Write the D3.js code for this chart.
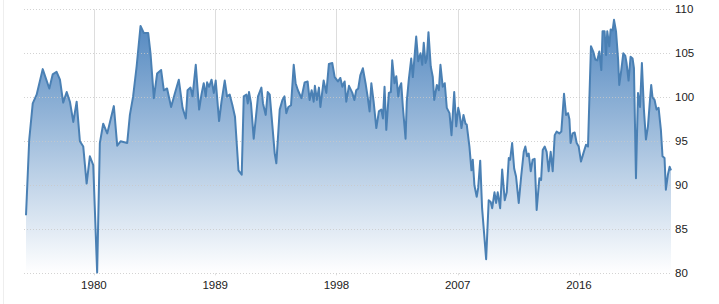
<!DOCTYPE html>
<html>
<head>
<meta charset="utf-8">
<script src="https://cdn.jsdelivr.net/npm/d3@7"></script>
<style>
  body { margin: 0; background: #fff; }
  svg { display: block; }
  .tick-label { font-family: 'Liberation Sans', Arial, sans-serif; font-size: 11.5px; fill: #222; }
</style>
</head>
<body>
<script>
// decimal years
var years = [
  1974.96, 1975.20, 1975.46, 1975.75, 1976.20, 1976.69, 1976.94, 1977.23, 1977.48, 1977.72,
  1977.98, 1978.22, 1978.47, 1978.72, 1978.96, 1979.21, 1979.46, 1979.70, 1979.95, 1980.24,
  1980.44, 1980.69, 1980.99, 1981.48, 1981.73, 1981.98, 1982.47, 1982.67, 1982.91, 1983.17,
  1983.46, 1983.71, 1983.91, 1984.03, 1984.20, 1984.45, 1984.69, 1984.99, 1985.19, 1985.43,
  1985.73, 1985.98, 1986.30, 1986.58, 1986.82, 1986.95, 1987.17, 1987.32, 1987.56, 1987.81,
  1987.98, 1988.15, 1988.30, 1988.40, 1988.55, 1988.73, 1988.90, 1989.04, 1989.29, 1989.47,
  1989.71, 1989.88, 1990.08, 1990.28, 1990.47, 1990.73, 1990.97, 1991.12, 1991.32, 1991.42,
  1991.51, 1991.66, 1991.86, 1992.18, 1992.43, 1992.55, 1992.75, 1992.90, 1993.05, 1993.25,
  1993.42, 1993.54, 1993.79, 1993.99, 1994.14, 1994.28, 1994.43, 1994.63, 1994.83, 1994.97,
  1995.14, 1995.40, 1995.64, 1995.86, 1996.01, 1996.16, 1996.31, 1996.40, 1996.55, 1996.70,
  1996.81, 1997.05, 1997.25, 1997.44, 1997.69, 1997.87, 1998.11, 1998.29, 1998.44, 1998.61,
  1998.73, 1998.93, 1999.18, 1999.33, 1999.47, 1999.62, 1999.77, 1999.96, 2000.16, 2000.33,
  2000.46, 2000.59, 2000.76, 2000.96, 2001.15, 2001.33, 2001.45, 2001.57, 2001.70, 2001.89,
  2002.04, 2002.14, 2002.31, 2002.44, 2002.59, 2002.68, 2002.81, 2002.93, 2003.13, 2003.22,
  2003.37, 2003.55, 2003.67, 2003.92, 2004.07, 2004.24, 2004.37, 2004.48, 2004.61, 2004.71,
  2004.83, 2005.00, 2005.15, 2005.26, 2005.45, 2005.60, 2005.72, 2005.89, 2006.04, 2006.19,
  2006.39, 2006.54, 2006.74, 2006.89, 2007.04, 2007.13, 2007.28, 2007.43, 2007.58, 2007.67,
  2007.87, 2008.02, 2008.12, 2008.24, 2008.41, 2008.52, 2008.67, 2008.81, 2008.96, 2009.11,
  2009.30, 2009.45, 2009.56, 2009.73, 2009.85, 2009.97, 2010.15, 2010.30, 2010.49, 2010.64,
  2010.79, 2010.89, 2011.04, 2011.19, 2011.33, 2011.53, 2011.71, 2011.90, 2012.02, 2012.15,
  2012.27, 2012.42, 2012.56, 2012.71, 2012.86, 2013.06, 2013.19, 2013.31, 2013.46, 2013.60,
  2013.75, 2013.90, 2014.05, 2014.20, 2014.34, 2014.54, 2014.69, 2014.89, 2015.04, 2015.19,
  2015.29, 2015.38, 2015.53, 2015.68, 2015.83, 2015.98, 2016.15, 2016.32, 2016.52, 2016.67,
  2016.77, 2016.89, 2017.06, 2017.21, 2017.36, 2017.51, 2017.66, 2017.75, 2017.90, 2018.01,
  2018.10, 2018.25, 2018.35, 2018.50, 2018.60, 2018.75, 2018.90, 2018.99, 2019.14, 2019.29,
  2019.44, 2019.53, 2019.68, 2019.83, 2019.98, 2020.08, 2020.23, 2020.38, 2020.53, 2020.67,
  2020.82, 2020.97, 2021.12, 2021.27, 2021.36, 2021.46, 2021.61, 2021.76, 2021.91, 2022.08,
  2022.20, 2022.35, 2022.45, 2022.60, 2022.73, 2022.83
]

var values = [
  86.6, 95.2, 99.3, 100.3, 103.2, 101.0, 102.6, 102.9, 102.0, 99.4,
  100.6, 99.5, 97.2, 99.5, 95.0, 94.4, 90.2, 93.3, 92.3, 80.1,
  94.8, 97.0, 95.9, 99.0, 94.5, 95.0, 94.8, 98.0, 100.1, 103.5,
  108.1, 107.3, 107.3, 107.3, 105.0, 99.9, 102.7, 103.1, 100.8, 101.0,
  98.9, 100.3, 102.0, 98.8, 97.6, 100.8, 101.1, 100.1, 103.7, 98.6,
  100.3, 101.6, 100.1, 101.7, 101.2, 102.0, 100.5, 101.9, 97.3, 99.5,
  101.9, 100.1, 100.3, 99.1, 97.8, 91.7, 91.2, 100.1, 100.3, 99.3,
  100.6, 99.3, 95.3, 100.1, 101.1, 99.3, 98.0, 100.6, 100.3, 96.7,
  93.6, 92.5, 98.6, 99.7, 100.1, 98.2, 98.9, 99.1, 103.7, 101.6,
  100.8, 99.9, 101.7, 101.8, 99.7, 100.8, 99.5, 101.3, 99.7, 101.1,
  98.9, 101.9, 100.5, 103.8, 103.9, 102.3, 101.8, 102.2, 101.2, 101.8,
  99.5, 101.3, 100.5, 99.7, 100.8, 101.0, 102.5, 103.3, 101.6, 99.9,
  98.4, 101.6, 99.5, 96.5, 98.4, 98.6, 97.6, 101.2, 96.3, 100.5,
  100.6, 104.2, 101.6, 102.4, 100.1, 101.1, 101.6, 98.9, 95.3, 99.5,
  102.0, 104.4, 102.3, 106.9, 104.1, 105.0, 103.7, 106.2, 103.9, 104.4,
  107.4, 103.5, 102.3, 99.7, 101.4, 100.8, 103.7, 101.2, 101.6, 98.8,
  98.2, 95.7, 100.6, 96.7, 98.8, 98.2, 96.5, 98.0, 97.0, 96.9,
  94.4, 91.7, 92.9, 90.0, 88.7, 89.7, 92.8, 87.4, 84.5, 81.6,
  88.3, 88.1, 87.4, 89.2, 88.0, 89.2, 87.4, 91.8, 88.3, 89.2,
  93.1, 92.9, 94.8, 91.9, 91.0, 88.0, 91.0, 93.8, 94.4, 93.3,
  93.6, 91.6, 92.9, 93.0, 87.2, 90.8, 90.6, 94.0, 94.4, 93.8,
  91.6, 93.8, 91.6, 95.7, 96.1, 95.9, 96.1, 100.4, 98.0, 98.2,
  97.5, 94.8, 95.9, 96.0, 94.8, 94.4, 92.7, 93.6, 94.6, 94.4,
  99.7, 105.8, 105.2, 104.3, 104.2, 105.2, 103.1, 107.5, 107.5, 104.8,
  107.5, 105.8, 107.7, 107.6, 108.8, 107.5, 104.4, 101.4, 103.1, 105.0,
  104.7, 103.9, 101.9, 104.6, 104.4, 103.3, 90.8, 100.5, 98.9, 103.9,
  98.6, 95.2, 96.7, 99.7, 101.4, 100.0, 99.7, 98.6, 98.8, 96.3,
  93.3, 93.1, 89.5, 91.2, 92.1, 91.7
]

var xTicks = [1980, 1989, 1998, 2007, 2016]
var yTicks = [80, 85, 90, 95, 100, 105, 110]

var width = 719
var height = 304

var data = years.map(function (y, i) { return { year: y, value: values[i] } })

var x = d3.scaleLinear()
  .domain(d3.extent(years))
  .range([26, 671])

var y = d3.scaleLinear()
  .domain([80, 110])
  .range([273.3, 9.3])

var svg = d3.select('body').append('svg')
  .attr('width', width)
  .attr('height', height)

// faint frame line on the left
svg.append('line')
  .attr('x1', 3.5).attr('x2', 3.5)
  .attr('y1', 0).attr('y2', height)
  .attr('stroke', '#eeeeee')

var defs = svg.append('defs')
var grad = defs.append('linearGradient')
  .attr('id', 'areaFill')
  .attr('gradientUnits', 'userSpaceOnUse')
  .attr('x1', 0).attr('x2', 0)
  .attr('y1', y(110)).attr('y2', y(80))
grad.append('stop').attr('offset', '0%').attr('stop-color', '#4a82bd')
grad.append('stop').attr('offset', '100%').attr('stop-color', '#ffffff')

// vertical grid
svg.append('g')
  .selectAll('line')
  .data(xTicks)
  .join('line')
  .attr('x1', function (d) { return Math.round(x(d)) + 0.5 })
  .attr('x2', function (d) { return Math.round(x(d)) + 0.5 })
  .attr('y1', y(110))
  .attr('y2', y(80) + 2)
  .attr('stroke', '#dddddd')

// area + line
var area = d3.area()
  .x(function (d) { return x(d.year) })
  .y0(y(80))
  .y1(function (d) { return y(d.value) })

var line = d3.line()
  .x(function (d) { return x(d.year) })
  .y(function (d) { return y(d.value) })

svg.append('path')
  .datum(data)
  .attr('d', area)
  .attr('fill', 'url(#areaFill)')

// horizontal grid (dotted), drawn over the fill so it shows through
svg.append('g')
  .selectAll('line')
  .data(yTicks)
  .join('line')
  .attr('x1', 24)
  .attr('x2', 671)
  .attr('y1', function (d) { return Math.round(y(d)) + 0.5 })
  .attr('y2', function (d) { return Math.round(y(d)) + 0.5 })
  .attr('stroke', '#c8c8c8')
  .attr('stroke-opacity', 0.8)
  .attr('stroke-dasharray', '1,2')

svg.append('path')
  .datum(data)
  .attr('d', line)
  .attr('fill', 'none')
  .attr('stroke', '#4a80b4')
  .attr('stroke-width', 2)
  .attr('stroke-linejoin', 'round')

// y labels on the right
svg.append('g')
  .selectAll('text')
  .data(yTicks)
  .join('text')
  .attr('class', 'tick-label')
  .attr('x', 675)
  .attr('y', function (d) { return y(d) })
  .attr('dy', '0.35em')
  .text(function (d) { return d })

// x labels
svg.append('g')
  .selectAll('text')
  .data(xTicks)
  .join('text')
  .attr('class', 'tick-label')
  .attr('x', function (d) { return x(d) })
  .attr('y', 289)
  .attr('text-anchor', 'middle')
  .text(function (d) { return d })
</script>
</body>
</html>
